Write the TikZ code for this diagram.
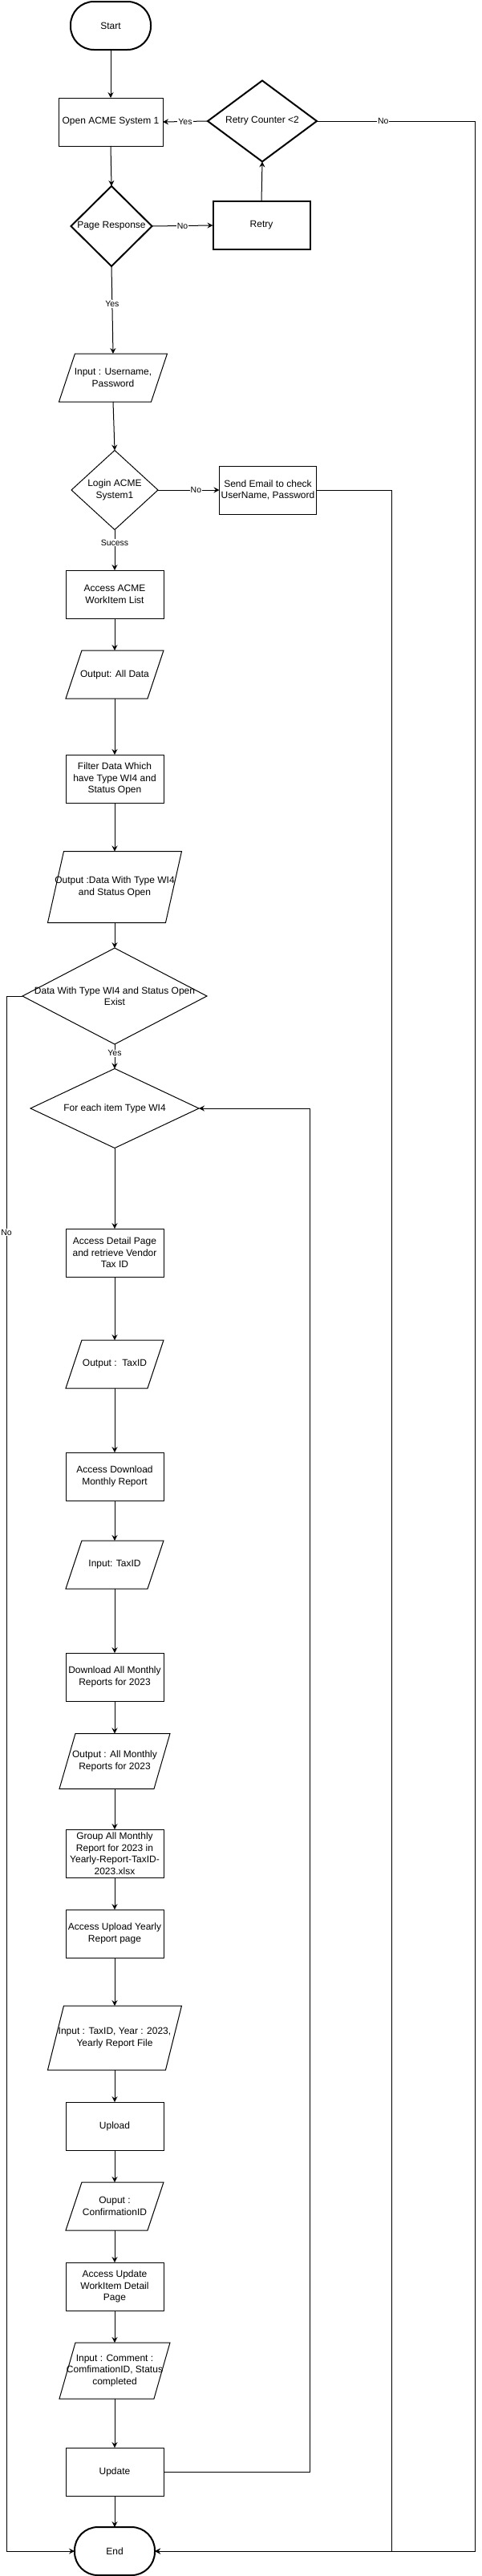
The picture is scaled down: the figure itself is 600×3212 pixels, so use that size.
\documentclass[tikz,border=0pt]{standalone}
\usepackage{fontspec}
\setmainfont{Liberation Sans}
\usetikzlibrary{arrows.meta,calc}
\tikzset{>={Stealth[length=7pt,width=7pt,inset=2.5pt]}}
\tikzset{
  txt/.style={font=\fontsize{12}{14.5}\selectfont, align=center, inner sep=1pt, outer sep=0pt},
  terminal/.style={txt, draw, line width=2pt, rounded corners=29pt, minimum width=100, minimum height=60},
  process/.style={txt, draw, minimum width=122, minimum height=60},
  decision/.style 2 args={txt, minimum width=#1, minimum height=#2},
  io/.style 2 args={txt, minimum width=#1, minimum height=#2},
  lbl/.style={fill=white, inner sep=1pt, font=\fontsize{10.5}{12}\selectfont},
}

\begin{document}
\begin{tikzpicture}[x=1pt, y=-1pt, line width=1pt]
\useasboundingbox (0,0) rectangle (600,3212);
\node[terminal] (start) at (138,32) {Start};
\node[process, minimum width=130] (open) at (138,152) {Open ACME System 1};
\node[decision={136}{101}] (retryc) at (327,151) {Retry Counter <2};
\node[decision={101}{100}] (page) at (139,282) {Page Response};
\node[process, minimum width=121, line width=2pt] (retry) at (326,281) {Retry};
\node[io={135}{60}] (inuser) at (141,471) {Input : Username,\\Password};
\node[decision={108}{99}] (login) at (143,611) {Login ACME\\System1};
\node[process, minimum width=121] (email) at (334,611) {Send Email to check\\UserName, Password};
\node[process] (list) at (143,741) {Access ACME\\WorkItem List};
\node[io={122}{60}] (alldata) at (143,841) {Output: All Data};
\node[process] (filter) at (143,971) {Filter Data Which\\have Type WI4 and\\Status Open};
\node[io={167}{89}] (outwi4) at (143,1106) {Output :Data With Type WI4\\and Status Open};
\node[decision={230}{120}] (exist) at (143,1242) {Data With Type WI4 and Status Open\\Exist};
\node[decision={210}{99}] (eachitem) at (143,1382) {For each item Type WI4};
\node[process] (detail) at (143,1562) {Access Detail Page\\and retrieve Vendor\\Tax ID};
\node[io={122}{60}] (taxid) at (143,1701) {Output :\ \ TaxID};
\node[process] (dlpage) at (143,1841) {Access Download\\Monthly Report};
\node[io={122}{60}] (intax) at (143,1951) {Input: TaxID};
\node[process] (dlall) at (143,2091) {Download All Monthly\\Reports for 2023};
\node[io={138}{69}] (outmonth) at (143,2196) {Output : All Monthly\\Reports for 2023};
\node[process] (group) at (143,2311) {Group All Monthly\\Report for 2023 in\\Yearly-Report-TaxID-\\2023.xlsx};
\node[process] (upage) at (143,2411) {Access Upload Yearly\\Report page};
\node[io={167}{80}] (inyear) at (143,2541) {Input : TaxID, Year : 2023,\\Yearly Report File};
\node[process] (upload) at (143,2651) {Upload};
\node[io={122}{60}] (outconf) at (143,2751) {Ouput :\\ConfirmationID};
\node[process] (upwi) at (143,2851) {Access Update\\WorkItem Detail\\Page};
\node[io={138}{70}] (incomm) at (143,2956) {Input : Comment :\\ComfimationID, Status\\completed};
\node[process] (update) at (143,3082) {Update};
\node[terminal] (end) at (143,3181) {End};

\foreach \n in {login,exist,eachitem}
  \draw (\n.north) -- (\n.east) -- (\n.south) -- (\n.west) -- cycle;
\foreach \n in {retryc,page}
  \draw[line width=2pt] (\n.north) -- (\n.east) -- (\n.south) -- (\n.west) -- cycle;
\foreach \n in {inuser,alldata,outwi4,taxid,intax,outmonth,inyear,outconf,incomm}
  \draw (\n.south west) -- ([xshift=20pt]\n.north west) -- (\n.north east) -- ([xshift=-20pt]\n.south east) -- cycle;

\coordinate (rtop) at (592,151);
\coordinate (rbot) at (592,3181);
\coordinate (emr) at (488,611);
\coordinate (ltop) at (8,1242);
\coordinate (lbot) at (8,3181);
\coordinate (lpr) at (386,3082);
\coordinate (lpu) at (386,1382);

\draw[->] (start.south) -- (open.north);
\draw[->] (open.south) -- (page.north);
\draw[->] (page.east) -- node[lbl] (pno) {No} (retry.west);
\draw[->] (retry.north) -- (retryc.south);
\draw[->] (retryc.west) -- node[lbl] (ryes) {Yes} (open.east);
\draw[->] (retryc.east) -- node[lbl, pos=0.42] (rno) {No} (rtop) -- (rbot) -- (end.east);
\draw[->] (page.south) -- node[lbl, pos=0.43] (pyes) {Yes} (inuser.north);
\draw[->] (inuser.south) -- (login.north);
\draw[->] (login.east) -- node[lbl, pos=0.62] (lno) {No} (email.west);
\draw[->] (login.south) -- node[lbl, pos=0.32] (lok) {Sucess} (list.north);
\draw[->] (email.east) -- (emr) |- (end.east);
\draw[->] (list.south) -- (alldata.north);
\draw[->] (alldata.south) -- (filter.north);
\draw[->] (filter.south) -- (outwi4.north);
\draw[->] (outwi4.south) -- (exist.north);
\draw[->] (exist.south) -- node[lbl, pos=0.37] (eyes) {Yes} (eachitem.north);
\draw[->] (exist.west) -- (ltop) -- node[lbl, pos=0.152] (eno) {No} (lbot) -- (end.west);
\draw[->] (eachitem.south) -- (detail.north);
\draw[->] (detail.south) -- (taxid.north);
\draw[->] (taxid.south) -- (dlpage.north);
\draw[->] (dlpage.south) -- (intax.north);
\draw[->] (intax.south) -- (dlall.north);
\draw[->] (dlall.south) -- (outmonth.north);
\draw[->] (outmonth.south) -- (group.north);
\draw[->] (group.south) -- (upage.north);
\draw[->] (upage.south) -- (inyear.north);
\draw[->] (inyear.south) -- (upload.north);
\draw[->] (upload.south) -- (outconf.north);
\draw[->] (outconf.south) -- (upwi.north);
\draw[->] (upwi.south) -- (incomm.north);
\draw[->] (incomm.south) -- (update.north);
\draw[->] (update.south) -- (end.north);
\draw[->] (update.east) -- (lpr) -- (lpu) -- (eachitem.east);
\end{tikzpicture}
\end{document}
